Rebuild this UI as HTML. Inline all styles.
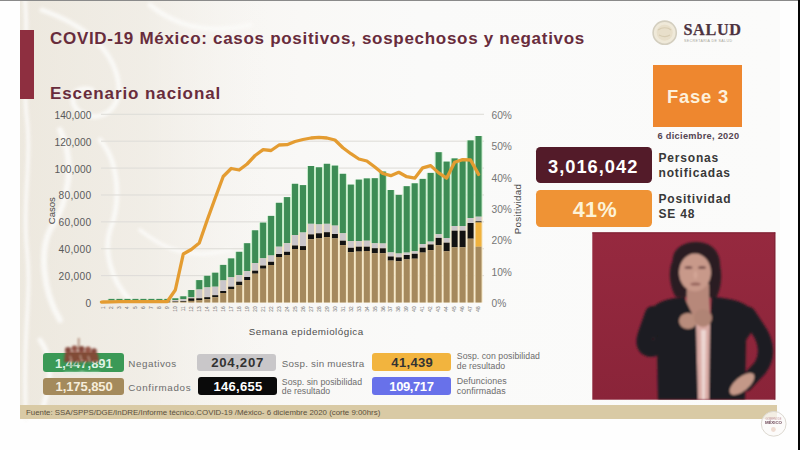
<!DOCTYPE html>
<html><head><meta charset="utf-8">
<style>
*{margin:0;padding:0;box-sizing:border-box}
html,body{width:800px;height:450px;overflow:hidden;background:#fefefe;font-family:"Liberation Sans",Arial,sans-serif}
.a{position:absolute}
.t{position:absolute;white-space:nowrap;line-height:normal}
svg{position:absolute;left:0;top:0}
</style></head><body>
<div id="wrap" style="position:absolute;left:0;top:0;width:800px;height:450px;filter:blur(0.35px)">
<div class="a" style="left:20px;top:1px;width:760px;height:418px;background:linear-gradient(90deg,#f1eee7 0px,#f3f1eb 60px,#f6f4f0 160px,#f9f8f6 280px,#fafaf9 400px,#fbfbfa 760px)"></div>
<svg width="800" height="450" viewBox="0 0 800 450">
  <defs><filter id="wb"><feGaussianBlur stdDeviation="1.5"/></filter>
  <linearGradient id="wf" x1="0" x2="1" y1="0" y2="0"><stop offset="0" stop-color="#ebe6db"/><stop offset="0.5" stop-color="#efebe3"/><stop offset="1" stop-color="#f6f4f0" stop-opacity="0"/></linearGradient></defs>
  <rect x="20" y="1" width="250" height="418" fill="url(#wf)" opacity="0.7"/>
  <g fill="none" stroke="#fbfaf8" stroke-linecap="round" filter="url(#wb)" opacity="0.9">
    <path d="M25 0 C 29 40, 22 80, 27 120 S 22 200, 27 250 S 22 330, 26 420" stroke-width="4"/>
    <path d="M42 10 C 70 20, 110 40, 118 80 C 124 108, 100 125, 80 112 C 66 102, 74 84, 92 90" stroke-width="5"/>
    <path d="M60 130 C 75 160, 70 200, 50 230 C 40 250, 42 290, 60 320" stroke-width="6"/>
    <path d="M100 140 C 118 160, 122 200, 110 230 C 104 250, 110 280, 130 300" stroke-width="5"/>
    <path d="M150 5 C 175 25, 205 35, 250 25" stroke-width="5"/>
    <path d="M40 340 C 55 360, 50 390, 40 415" stroke-width="5"/>
    <path d="M140 230 C 165 250, 190 260, 230 250" stroke-width="4"/>
  </g>
</svg>
<div class="a" style="left:0;top:0;width:800px;height:1px;background:#8a8a8a"></div>
<div class="a" style="left:20px;top:30px;width:14px;height:69px;background:#8e2f40"></div>
<svg width="800" height="450" viewBox="0 0 800 450">
  <circle cx="664.7" cy="32.7" r="11.6" fill="#efe9d9" stroke="#d3cebf" stroke-width="1.6"/>
  <circle cx="664.7" cy="32.7" r="8" fill="#e6dcc6" opacity="0.8"/>
  <path d="M658 30 C 662 27, 668 27, 671 30 M 659 35 C 663 37, 667 37, 670 35" stroke="#d7ccb2" stroke-width="1.2" fill="none"/>
  <text x="683.4" y="34.9" font-family="Liberation Serif" font-weight="bold" font-size="16.2" fill="#4d3340" stroke="#4d3340" stroke-width="0.25" textLength="57.6">SALUD</text>
  <text x="684" y="42" font-family="Liberation Sans" font-size="3.6" fill="#a7a599" textLength="48">SECRETARÍA DE SALUD</text>
</svg>
<svg width="800" height="450" viewBox="0 0 800 450" font-family="Liberation Sans">
<rect x="101" y="113.75" width="383" height="1.1" fill="#dfddd9"/>
<rect x="101" y="140.64" width="383" height="1.1" fill="#dfddd9"/>
<rect x="101" y="167.52" width="383" height="1.1" fill="#dfddd9"/>
<rect x="101" y="194.41" width="383" height="1.1" fill="#dfddd9"/>
<rect x="101" y="221.29" width="383" height="1.1" fill="#dfddd9"/>
<rect x="101" y="248.18" width="383" height="1.1" fill="#dfddd9"/>
<rect x="101" y="275.06" width="383" height="1.1" fill="#dfddd9"/>
<rect x="99.50" y="301.30" width="8" height="0.70" fill="#c9edcc"/>
<rect x="99.50" y="302.00" width="8" height="0.50" fill="#f4e5c3"/>
<rect x="107.48" y="298.90" width="8" height="1.70" fill="#c9edcc"/>
<rect x="107.48" y="300.60" width="8" height="1.90" fill="#f4e5c3"/>
<rect x="115.46" y="298.90" width="8" height="1.70" fill="#c9edcc"/>
<rect x="115.46" y="300.60" width="8" height="1.90" fill="#f4e5c3"/>
<rect x="123.44" y="298.90" width="8" height="1.70" fill="#c9edcc"/>
<rect x="123.44" y="300.60" width="8" height="1.90" fill="#f4e5c3"/>
<rect x="131.42" y="298.90" width="8" height="1.70" fill="#c9edcc"/>
<rect x="131.42" y="300.60" width="8" height="1.90" fill="#f4e5c3"/>
<rect x="139.40" y="298.90" width="8" height="1.70" fill="#c9edcc"/>
<rect x="139.40" y="300.60" width="8" height="1.90" fill="#f4e5c3"/>
<rect x="147.38" y="298.90" width="8" height="1.70" fill="#c9edcc"/>
<rect x="147.38" y="300.60" width="8" height="1.90" fill="#f4e5c3"/>
<rect x="155.36" y="298.90" width="8" height="1.70" fill="#c9edcc"/>
<rect x="155.36" y="300.60" width="8" height="1.90" fill="#f4e5c3"/>
<rect x="163.34" y="298.90" width="8" height="1.70" fill="#c9edcc"/>
<rect x="163.34" y="300.60" width="8" height="1.90" fill="#f4e5c3"/>
<rect x="171.32" y="298.30" width="8" height="1.70" fill="#c9edcc"/>
<rect x="171.32" y="300.00" width="8" height="2.50" fill="#f4e5c3"/>
<rect x="179.30" y="296.30" width="8" height="2.70" fill="#c9edcc"/>
<rect x="179.30" y="299.00" width="8" height="3.50" fill="#f4e5c3"/>
<rect x="187.28" y="290.00" width="8" height="7.30" fill="#c9edcc"/>
<rect x="187.28" y="297.30" width="8" height="5.20" fill="#f4e5c3"/>
<rect x="195.26" y="280.10" width="8" height="9.40" fill="#c9edcc"/>
<rect x="195.26" y="289.50" width="8" height="13.00" fill="#f4e5c3"/>
<rect x="203.24" y="275.80" width="8" height="11.60" fill="#c9edcc"/>
<rect x="203.24" y="287.40" width="8" height="15.10" fill="#f4e5c3"/>
<rect x="211.22" y="272.70" width="8" height="14.00" fill="#c9edcc"/>
<rect x="211.22" y="286.70" width="8" height="15.80" fill="#f4e5c3"/>
<rect x="219.20" y="264.90" width="8" height="15.50" fill="#c9edcc"/>
<rect x="219.20" y="280.40" width="8" height="22.10" fill="#f4e5c3"/>
<rect x="227.18" y="258.40" width="8" height="18.90" fill="#c9edcc"/>
<rect x="227.18" y="277.30" width="8" height="25.20" fill="#f4e5c3"/>
<rect x="235.16" y="251.80" width="8" height="23.30" fill="#c9edcc"/>
<rect x="235.16" y="275.10" width="8" height="27.40" fill="#f4e5c3"/>
<rect x="243.14" y="243.20" width="8" height="28.00" fill="#c9edcc"/>
<rect x="243.14" y="271.20" width="8" height="31.30" fill="#f4e5c3"/>
<rect x="251.12" y="230.30" width="8" height="32.70" fill="#c9edcc"/>
<rect x="251.12" y="263.00" width="8" height="39.50" fill="#f4e5c3"/>
<rect x="259.10" y="222.60" width="8" height="35.70" fill="#c9edcc"/>
<rect x="259.10" y="258.30" width="8" height="44.20" fill="#f4e5c3"/>
<rect x="267.08" y="215.90" width="8" height="39.60" fill="#c9edcc"/>
<rect x="267.08" y="255.50" width="8" height="47.00" fill="#f4e5c3"/>
<rect x="275.06" y="202.80" width="8" height="43.90" fill="#c9edcc"/>
<rect x="275.06" y="246.70" width="8" height="55.80" fill="#f4e5c3"/>
<rect x="283.04" y="197.10" width="8" height="46.10" fill="#c9edcc"/>
<rect x="283.04" y="243.20" width="8" height="59.30" fill="#f4e5c3"/>
<rect x="291.02" y="183.80" width="8" height="51.20" fill="#c9edcc"/>
<rect x="291.02" y="235.00" width="8" height="67.50" fill="#f4e5c3"/>
<rect x="299.00" y="185.10" width="8" height="47.40" fill="#c9edcc"/>
<rect x="299.00" y="232.50" width="8" height="70.00" fill="#f4e5c3"/>
<rect x="306.98" y="166.00" width="8" height="57.80" fill="#c9edcc"/>
<rect x="306.98" y="223.80" width="8" height="78.70" fill="#f4e5c3"/>
<rect x="314.96" y="167.30" width="8" height="57.10" fill="#c9edcc"/>
<rect x="314.96" y="224.40" width="8" height="78.10" fill="#f4e5c3"/>
<rect x="322.94" y="163.80" width="8" height="60.00" fill="#c9edcc"/>
<rect x="322.94" y="223.80" width="8" height="78.70" fill="#f4e5c3"/>
<rect x="330.92" y="165.60" width="8" height="60.00" fill="#c9edcc"/>
<rect x="330.92" y="225.60" width="8" height="76.90" fill="#f4e5c3"/>
<rect x="338.90" y="173.80" width="8" height="59.50" fill="#c9edcc"/>
<rect x="338.90" y="233.30" width="8" height="69.20" fill="#f4e5c3"/>
<rect x="346.88" y="184.60" width="8" height="56.50" fill="#c9edcc"/>
<rect x="346.88" y="241.10" width="8" height="61.40" fill="#f4e5c3"/>
<rect x="354.86" y="179.60" width="8" height="61.50" fill="#c9edcc"/>
<rect x="354.86" y="241.10" width="8" height="61.40" fill="#f4e5c3"/>
<rect x="362.84" y="178.40" width="8" height="62.30" fill="#c9edcc"/>
<rect x="362.84" y="240.70" width="8" height="61.80" fill="#f4e5c3"/>
<rect x="370.82" y="178.20" width="8" height="65.10" fill="#c9edcc"/>
<rect x="370.82" y="243.30" width="8" height="59.20" fill="#f4e5c3"/>
<rect x="378.80" y="171.50" width="8" height="72.00" fill="#c9edcc"/>
<rect x="378.80" y="243.50" width="8" height="59.00" fill="#f4e5c3"/>
<rect x="386.78" y="190.00" width="8" height="62.40" fill="#c9edcc"/>
<rect x="386.78" y="252.40" width="8" height="50.10" fill="#f4e5c3"/>
<rect x="394.76" y="194.90" width="8" height="58.60" fill="#c9edcc"/>
<rect x="394.76" y="253.50" width="8" height="49.00" fill="#f4e5c3"/>
<rect x="402.74" y="186.20" width="8" height="66.40" fill="#c9edcc"/>
<rect x="402.74" y="252.60" width="8" height="49.90" fill="#f4e5c3"/>
<rect x="410.72" y="183.30" width="8" height="68.00" fill="#c9edcc"/>
<rect x="410.72" y="251.30" width="8" height="51.20" fill="#f4e5c3"/>
<rect x="418.70" y="178.90" width="8" height="65.10" fill="#c9edcc"/>
<rect x="418.70" y="244.00" width="8" height="58.50" fill="#f4e5c3"/>
<rect x="426.68" y="172.90" width="8" height="68.70" fill="#c9edcc"/>
<rect x="426.68" y="241.60" width="8" height="60.90" fill="#f4e5c3"/>
<rect x="434.66" y="152.20" width="8" height="82.00" fill="#c9edcc"/>
<rect x="434.66" y="234.20" width="8" height="68.30" fill="#f4e5c3"/>
<rect x="442.64" y="161.60" width="8" height="76.40" fill="#c9edcc"/>
<rect x="442.64" y="238.00" width="8" height="64.50" fill="#f4e5c3"/>
<rect x="450.62" y="158.40" width="8" height="67.60" fill="#c9edcc"/>
<rect x="450.62" y="226.00" width="8" height="76.50" fill="#f4e5c3"/>
<rect x="458.60" y="159.60" width="8" height="66.40" fill="#c9edcc"/>
<rect x="458.60" y="226.00" width="8" height="76.50" fill="#f4e5c3"/>
<rect x="466.58" y="140.40" width="8" height="77.60" fill="#c9edcc"/>
<rect x="466.58" y="218.00" width="8" height="84.50" fill="#f4e5c3"/>
<rect x="474.56" y="136.00" width="8" height="80.70" fill="#c9edcc"/>
<rect x="474.56" y="216.70" width="8" height="85.80" fill="#f4e5c3"/>
<rect x="100.50" y="301.30" width="6.0" height="0.70" fill="#3d8c55"/>
<rect x="100.50" y="302.00" width="6.0" height="0.50" fill="#cac6ca"/>
<rect x="108.48" y="298.90" width="6.0" height="1.70" fill="#3d8c55"/>
<rect x="108.48" y="300.60" width="6.0" height="1.00" fill="#cac6ca"/>
<rect x="108.48" y="301.60" width="6.0" height="0.60" fill="#121212"/>
<rect x="108.48" y="302.20" width="6.0" height="0.30" fill="#a5895d"/>
<rect x="116.46" y="298.90" width="6.0" height="1.70" fill="#3d8c55"/>
<rect x="116.46" y="300.60" width="6.0" height="1.00" fill="#cac6ca"/>
<rect x="116.46" y="301.60" width="6.0" height="0.60" fill="#121212"/>
<rect x="116.46" y="302.20" width="6.0" height="0.30" fill="#a5895d"/>
<rect x="124.44" y="298.90" width="6.0" height="1.70" fill="#3d8c55"/>
<rect x="124.44" y="300.60" width="6.0" height="1.00" fill="#cac6ca"/>
<rect x="124.44" y="301.60" width="6.0" height="0.60" fill="#121212"/>
<rect x="124.44" y="302.20" width="6.0" height="0.30" fill="#a5895d"/>
<rect x="132.42" y="298.90" width="6.0" height="1.70" fill="#3d8c55"/>
<rect x="132.42" y="300.60" width="6.0" height="1.00" fill="#cac6ca"/>
<rect x="132.42" y="301.60" width="6.0" height="0.60" fill="#121212"/>
<rect x="132.42" y="302.20" width="6.0" height="0.30" fill="#a5895d"/>
<rect x="140.40" y="298.90" width="6.0" height="1.70" fill="#3d8c55"/>
<rect x="140.40" y="300.60" width="6.0" height="1.00" fill="#cac6ca"/>
<rect x="140.40" y="301.60" width="6.0" height="0.60" fill="#121212"/>
<rect x="140.40" y="302.20" width="6.0" height="0.30" fill="#a5895d"/>
<rect x="148.38" y="298.90" width="6.0" height="1.70" fill="#3d8c55"/>
<rect x="148.38" y="300.60" width="6.0" height="1.00" fill="#cac6ca"/>
<rect x="148.38" y="301.60" width="6.0" height="0.60" fill="#121212"/>
<rect x="148.38" y="302.20" width="6.0" height="0.30" fill="#a5895d"/>
<rect x="156.36" y="298.90" width="6.0" height="1.70" fill="#3d8c55"/>
<rect x="156.36" y="300.60" width="6.0" height="1.00" fill="#cac6ca"/>
<rect x="156.36" y="301.60" width="6.0" height="0.60" fill="#121212"/>
<rect x="156.36" y="302.20" width="6.0" height="0.30" fill="#a5895d"/>
<rect x="164.34" y="298.90" width="6.0" height="1.70" fill="#3d8c55"/>
<rect x="164.34" y="300.60" width="6.0" height="1.00" fill="#cac6ca"/>
<rect x="164.34" y="301.60" width="6.0" height="0.60" fill="#121212"/>
<rect x="164.34" y="302.20" width="6.0" height="0.30" fill="#a5895d"/>
<rect x="172.32" y="298.30" width="6.0" height="1.70" fill="#3d8c55"/>
<rect x="172.32" y="300.00" width="6.0" height="1.50" fill="#cac6ca"/>
<rect x="172.32" y="301.50" width="6.0" height="0.50" fill="#121212"/>
<rect x="172.32" y="302.00" width="6.0" height="0.50" fill="#a5895d"/>
<rect x="180.30" y="296.30" width="6.0" height="2.70" fill="#3d8c55"/>
<rect x="180.30" y="299.00" width="6.0" height="2.00" fill="#cac6ca"/>
<rect x="180.30" y="301.00" width="6.0" height="0.80" fill="#121212"/>
<rect x="180.30" y="301.80" width="6.0" height="0.70" fill="#a5895d"/>
<rect x="188.28" y="290.00" width="6.0" height="7.30" fill="#3d8c55"/>
<rect x="188.28" y="297.30" width="6.0" height="1.10" fill="#cac6ca"/>
<rect x="188.28" y="298.40" width="6.0" height="2.50" fill="#121212"/>
<rect x="188.28" y="300.90" width="6.0" height="1.60" fill="#a5895d"/>
<rect x="196.26" y="280.10" width="6.0" height="9.40" fill="#3d8c55"/>
<rect x="196.26" y="289.50" width="6.0" height="8.80" fill="#cac6ca"/>
<rect x="196.26" y="298.30" width="6.0" height="2.00" fill="#121212"/>
<rect x="196.26" y="300.30" width="6.0" height="2.20" fill="#a5895d"/>
<rect x="204.24" y="275.80" width="6.0" height="11.60" fill="#3d8c55"/>
<rect x="204.24" y="287.40" width="6.0" height="9.80" fill="#cac6ca"/>
<rect x="204.24" y="297.20" width="6.0" height="2.00" fill="#121212"/>
<rect x="204.24" y="299.20" width="6.0" height="3.30" fill="#a5895d"/>
<rect x="212.22" y="272.70" width="6.0" height="14.00" fill="#3d8c55"/>
<rect x="212.22" y="286.70" width="6.0" height="8.50" fill="#cac6ca"/>
<rect x="212.22" y="295.20" width="6.0" height="2.00" fill="#121212"/>
<rect x="212.22" y="297.20" width="6.0" height="5.30" fill="#a5895d"/>
<rect x="220.20" y="264.90" width="6.0" height="15.50" fill="#3d8c55"/>
<rect x="220.20" y="280.40" width="6.0" height="10.60" fill="#cac6ca"/>
<rect x="220.20" y="291.00" width="6.0" height="2.00" fill="#121212"/>
<rect x="220.20" y="293.00" width="6.0" height="9.50" fill="#a5895d"/>
<rect x="228.18" y="258.40" width="6.0" height="18.90" fill="#3d8c55"/>
<rect x="228.18" y="277.30" width="6.0" height="9.40" fill="#cac6ca"/>
<rect x="228.18" y="286.70" width="6.0" height="2.30" fill="#121212"/>
<rect x="228.18" y="289.00" width="6.0" height="13.50" fill="#a5895d"/>
<rect x="236.16" y="251.80" width="6.0" height="23.30" fill="#3d8c55"/>
<rect x="236.16" y="275.10" width="6.0" height="6.60" fill="#cac6ca"/>
<rect x="236.16" y="281.70" width="6.0" height="3.50" fill="#121212"/>
<rect x="236.16" y="285.20" width="6.0" height="17.30" fill="#a5895d"/>
<rect x="244.14" y="243.20" width="6.0" height="28.00" fill="#3d8c55"/>
<rect x="244.14" y="271.20" width="6.0" height="5.80" fill="#cac6ca"/>
<rect x="244.14" y="277.00" width="6.0" height="3.00" fill="#121212"/>
<rect x="244.14" y="280.00" width="6.0" height="22.50" fill="#a5895d"/>
<rect x="252.12" y="230.30" width="6.0" height="32.70" fill="#3d8c55"/>
<rect x="252.12" y="263.00" width="6.0" height="7.70" fill="#cac6ca"/>
<rect x="252.12" y="270.70" width="6.0" height="3.00" fill="#121212"/>
<rect x="252.12" y="273.70" width="6.0" height="28.80" fill="#a5895d"/>
<rect x="260.10" y="222.60" width="6.0" height="35.70" fill="#3d8c55"/>
<rect x="260.10" y="258.30" width="6.0" height="7.30" fill="#cac6ca"/>
<rect x="260.10" y="265.60" width="6.0" height="3.10" fill="#121212"/>
<rect x="260.10" y="268.70" width="6.0" height="33.80" fill="#a5895d"/>
<rect x="268.08" y="215.90" width="6.0" height="39.60" fill="#3d8c55"/>
<rect x="268.08" y="255.50" width="6.0" height="6.30" fill="#cac6ca"/>
<rect x="268.08" y="261.80" width="6.0" height="3.20" fill="#121212"/>
<rect x="268.08" y="265.00" width="6.0" height="37.50" fill="#a5895d"/>
<rect x="276.06" y="202.80" width="6.0" height="43.90" fill="#3d8c55"/>
<rect x="276.06" y="246.70" width="6.0" height="7.30" fill="#cac6ca"/>
<rect x="276.06" y="254.00" width="6.0" height="3.00" fill="#121212"/>
<rect x="276.06" y="257.00" width="6.0" height="45.50" fill="#a5895d"/>
<rect x="284.04" y="197.10" width="6.0" height="46.10" fill="#3d8c55"/>
<rect x="284.04" y="243.20" width="6.0" height="8.60" fill="#cac6ca"/>
<rect x="284.04" y="251.80" width="6.0" height="3.20" fill="#121212"/>
<rect x="284.04" y="255.00" width="6.0" height="47.50" fill="#a5895d"/>
<rect x="292.02" y="183.80" width="6.0" height="51.20" fill="#3d8c55"/>
<rect x="292.02" y="235.00" width="6.0" height="10.50" fill="#cac6ca"/>
<rect x="292.02" y="245.50" width="6.0" height="3.50" fill="#121212"/>
<rect x="292.02" y="249.00" width="6.0" height="53.50" fill="#a5895d"/>
<rect x="300.00" y="185.10" width="6.0" height="47.40" fill="#3d8c55"/>
<rect x="300.00" y="232.50" width="6.0" height="13.60" fill="#cac6ca"/>
<rect x="300.00" y="246.10" width="6.0" height="3.90" fill="#121212"/>
<rect x="300.00" y="250.00" width="6.0" height="52.50" fill="#a5895d"/>
<rect x="307.98" y="166.00" width="6.0" height="57.80" fill="#3d8c55"/>
<rect x="307.98" y="223.80" width="6.0" height="10.60" fill="#cac6ca"/>
<rect x="307.98" y="234.40" width="6.0" height="4.90" fill="#121212"/>
<rect x="307.98" y="239.30" width="6.0" height="63.20" fill="#a5895d"/>
<rect x="315.96" y="167.30" width="6.0" height="57.10" fill="#3d8c55"/>
<rect x="315.96" y="224.40" width="6.0" height="8.90" fill="#cac6ca"/>
<rect x="315.96" y="233.30" width="6.0" height="5.10" fill="#121212"/>
<rect x="315.96" y="238.40" width="6.0" height="64.10" fill="#a5895d"/>
<rect x="323.94" y="163.80" width="6.0" height="60.00" fill="#3d8c55"/>
<rect x="323.94" y="223.80" width="6.0" height="8.40" fill="#cac6ca"/>
<rect x="323.94" y="232.20" width="6.0" height="4.90" fill="#121212"/>
<rect x="323.94" y="237.10" width="6.0" height="65.40" fill="#a5895d"/>
<rect x="331.92" y="165.60" width="6.0" height="60.00" fill="#3d8c55"/>
<rect x="331.92" y="225.60" width="6.0" height="8.40" fill="#cac6ca"/>
<rect x="331.92" y="234.00" width="6.0" height="4.40" fill="#121212"/>
<rect x="331.92" y="238.40" width="6.0" height="64.10" fill="#a5895d"/>
<rect x="339.90" y="173.80" width="6.0" height="59.50" fill="#3d8c55"/>
<rect x="339.90" y="233.30" width="6.0" height="7.40" fill="#cac6ca"/>
<rect x="339.90" y="240.70" width="6.0" height="4.40" fill="#121212"/>
<rect x="339.90" y="245.10" width="6.0" height="57.40" fill="#a5895d"/>
<rect x="347.88" y="184.60" width="6.0" height="56.50" fill="#3d8c55"/>
<rect x="347.88" y="241.10" width="6.0" height="6.70" fill="#cac6ca"/>
<rect x="347.88" y="247.80" width="6.0" height="4.40" fill="#121212"/>
<rect x="347.88" y="252.20" width="6.0" height="50.30" fill="#a5895d"/>
<rect x="355.86" y="179.60" width="6.0" height="61.50" fill="#3d8c55"/>
<rect x="355.86" y="241.10" width="6.0" height="5.60" fill="#cac6ca"/>
<rect x="355.86" y="246.70" width="6.0" height="4.90" fill="#121212"/>
<rect x="355.86" y="251.60" width="6.0" height="50.90" fill="#a5895d"/>
<rect x="363.84" y="178.40" width="6.0" height="62.30" fill="#3d8c55"/>
<rect x="363.84" y="240.70" width="6.0" height="6.00" fill="#cac6ca"/>
<rect x="363.84" y="246.70" width="6.0" height="4.30" fill="#121212"/>
<rect x="363.84" y="251.00" width="6.0" height="51.50" fill="#a5895d"/>
<rect x="371.82" y="178.20" width="6.0" height="65.10" fill="#3d8c55"/>
<rect x="371.82" y="243.30" width="6.0" height="4.90" fill="#cac6ca"/>
<rect x="371.82" y="248.20" width="6.0" height="5.10" fill="#121212"/>
<rect x="371.82" y="253.30" width="6.0" height="49.20" fill="#a5895d"/>
<rect x="379.80" y="171.50" width="6.0" height="72.00" fill="#3d8c55"/>
<rect x="379.80" y="243.50" width="6.0" height="4.80" fill="#cac6ca"/>
<rect x="379.80" y="248.30" width="6.0" height="5.00" fill="#121212"/>
<rect x="379.80" y="253.30" width="6.0" height="49.20" fill="#a5895d"/>
<rect x="387.78" y="190.00" width="6.0" height="62.40" fill="#3d8c55"/>
<rect x="387.78" y="252.40" width="6.0" height="4.10" fill="#cac6ca"/>
<rect x="387.78" y="256.50" width="6.0" height="4.10" fill="#121212"/>
<rect x="387.78" y="260.60" width="6.0" height="41.90" fill="#a5895d"/>
<rect x="395.76" y="194.90" width="6.0" height="58.60" fill="#3d8c55"/>
<rect x="395.76" y="253.50" width="6.0" height="3.90" fill="#cac6ca"/>
<rect x="395.76" y="257.40" width="6.0" height="3.90" fill="#121212"/>
<rect x="395.76" y="261.30" width="6.0" height="41.20" fill="#a5895d"/>
<rect x="403.74" y="186.20" width="6.0" height="66.40" fill="#3d8c55"/>
<rect x="403.74" y="252.60" width="6.0" height="2.40" fill="#cac6ca"/>
<rect x="403.74" y="255.00" width="6.0" height="4.40" fill="#121212"/>
<rect x="403.74" y="259.40" width="6.0" height="43.10" fill="#a5895d"/>
<rect x="411.72" y="183.30" width="6.0" height="68.00" fill="#3d8c55"/>
<rect x="411.72" y="251.30" width="6.0" height="2.50" fill="#cac6ca"/>
<rect x="411.72" y="253.80" width="6.0" height="4.90" fill="#121212"/>
<rect x="411.72" y="258.70" width="6.0" height="43.80" fill="#a5895d"/>
<rect x="419.70" y="178.90" width="6.0" height="65.10" fill="#3d8c55"/>
<rect x="419.70" y="244.00" width="6.0" height="3.70" fill="#cac6ca"/>
<rect x="419.70" y="247.70" width="6.0" height="4.90" fill="#121212"/>
<rect x="419.70" y="252.60" width="6.0" height="49.90" fill="#a5895d"/>
<rect x="427.68" y="172.90" width="6.0" height="68.70" fill="#3d8c55"/>
<rect x="427.68" y="241.60" width="6.0" height="2.90" fill="#cac6ca"/>
<rect x="427.68" y="244.50" width="6.0" height="5.60" fill="#121212"/>
<rect x="427.68" y="250.10" width="6.0" height="52.40" fill="#a5895d"/>
<rect x="435.66" y="152.20" width="6.0" height="82.00" fill="#3d8c55"/>
<rect x="435.66" y="234.20" width="6.0" height="3.70" fill="#cac6ca"/>
<rect x="435.66" y="237.90" width="6.0" height="7.30" fill="#121212"/>
<rect x="435.66" y="245.20" width="6.0" height="57.30" fill="#a5895d"/>
<rect x="443.64" y="161.60" width="6.0" height="76.40" fill="#3d8c55"/>
<rect x="443.64" y="238.00" width="6.0" height="4.70" fill="#cac6ca"/>
<rect x="443.64" y="242.70" width="6.0" height="8.60" fill="#121212"/>
<rect x="443.64" y="251.30" width="6.0" height="51.20" fill="#a5895d"/>
<rect x="451.62" y="158.40" width="6.0" height="67.60" fill="#3d8c55"/>
<rect x="451.62" y="226.00" width="6.0" height="4.70" fill="#cac6ca"/>
<rect x="451.62" y="230.70" width="6.0" height="16.60" fill="#121212"/>
<rect x="451.62" y="247.30" width="6.0" height="55.20" fill="#a5895d"/>
<rect x="459.60" y="159.60" width="6.0" height="66.40" fill="#3d8c55"/>
<rect x="459.60" y="226.00" width="6.0" height="4.70" fill="#cac6ca"/>
<rect x="459.60" y="230.70" width="6.0" height="16.60" fill="#121212"/>
<rect x="459.60" y="247.30" width="6.0" height="55.20" fill="#a5895d"/>
<rect x="467.58" y="140.40" width="6.0" height="77.60" fill="#3d8c55"/>
<rect x="467.58" y="218.00" width="6.0" height="5.00" fill="#cac6ca"/>
<rect x="467.58" y="223.00" width="6.0" height="15.70" fill="#121212"/>
<rect x="467.58" y="238.70" width="6.0" height="63.80" fill="#a5895d"/>
<rect x="475.56" y="136.00" width="6.0" height="80.70" fill="#3d8c55"/>
<rect x="475.56" y="216.70" width="6.0" height="4.60" fill="#cac6ca"/>
<rect x="475.56" y="221.30" width="6.0" height="1.20" fill="#121212"/>
<rect x="475.56" y="222.50" width="6.0" height="24.20" fill="#f0b23e"/>
<rect x="475.56" y="246.70" width="6.0" height="55.80" fill="#a5895d"/>
<polyline points="101.5,302.2 103.50,302.00 111.48,301.80 119.46,301.60 127.44,301.60 135.42,301.70 143.40,301.70 151.38,301.70 159.36,301.70 167.34,301.50 175.32,290.00 183.30,254.00 191.28,249.50 199.26,243.00 207.24,220.00 215.22,198.00 223.20,176.50 231.18,168.50 239.16,170.00 247.14,164.00 255.12,155.50 263.10,149.70 271.08,150.50 279.06,145.00 287.04,144.70 295.02,141.50 303.00,139.50 310.98,138.00 318.96,137.30 326.94,138.00 334.92,140.00 342.90,147.70 350.88,153.70 358.86,159.00 366.84,161.00 374.82,167.00 382.80,173.50 390.78,175.70 398.76,172.30 406.74,176.70 414.72,178.20 422.70,167.80 430.68,165.60 438.66,172.90 446.64,178.20 454.62,162.20 462.60,159.60 470.58,160.00 478.56,174.40" fill="none" stroke="#e49c31" stroke-width="3.3" stroke-linejoin="round" stroke-linecap="round"/>
<text transform="translate(105.20,306.3) rotate(-90)" text-anchor="end" font-size="4.8" fill="#6a6a6a">1</text>
<text transform="translate(113.18,306.3) rotate(-90)" text-anchor="end" font-size="4.8" fill="#6a6a6a">2</text>
<text transform="translate(121.16,306.3) rotate(-90)" text-anchor="end" font-size="4.8" fill="#6a6a6a">3</text>
<text transform="translate(129.14,306.3) rotate(-90)" text-anchor="end" font-size="4.8" fill="#6a6a6a">4</text>
<text transform="translate(137.12,306.3) rotate(-90)" text-anchor="end" font-size="4.8" fill="#6a6a6a">5</text>
<text transform="translate(145.10,306.3) rotate(-90)" text-anchor="end" font-size="4.8" fill="#6a6a6a">6</text>
<text transform="translate(153.08,306.3) rotate(-90)" text-anchor="end" font-size="4.8" fill="#6a6a6a">7</text>
<text transform="translate(161.06,306.3) rotate(-90)" text-anchor="end" font-size="4.8" fill="#6a6a6a">8</text>
<text transform="translate(169.04,306.3) rotate(-90)" text-anchor="end" font-size="4.8" fill="#6a6a6a">9</text>
<text transform="translate(177.02,306.3) rotate(-90)" text-anchor="end" font-size="4.8" fill="#6a6a6a">10</text>
<text transform="translate(185.00,306.3) rotate(-90)" text-anchor="end" font-size="4.8" fill="#6a6a6a">11</text>
<text transform="translate(192.98,306.3) rotate(-90)" text-anchor="end" font-size="4.8" fill="#6a6a6a">12</text>
<text transform="translate(200.96,306.3) rotate(-90)" text-anchor="end" font-size="4.8" fill="#6a6a6a">13</text>
<text transform="translate(208.94,306.3) rotate(-90)" text-anchor="end" font-size="4.8" fill="#6a6a6a">14</text>
<text transform="translate(216.92,306.3) rotate(-90)" text-anchor="end" font-size="4.8" fill="#6a6a6a">15</text>
<text transform="translate(224.90,306.3) rotate(-90)" text-anchor="end" font-size="4.8" fill="#6a6a6a">16</text>
<text transform="translate(232.88,306.3) rotate(-90)" text-anchor="end" font-size="4.8" fill="#6a6a6a">17</text>
<text transform="translate(240.86,306.3) rotate(-90)" text-anchor="end" font-size="4.8" fill="#6a6a6a">18</text>
<text transform="translate(248.84,306.3) rotate(-90)" text-anchor="end" font-size="4.8" fill="#6a6a6a">19</text>
<text transform="translate(256.82,306.3) rotate(-90)" text-anchor="end" font-size="4.8" fill="#6a6a6a">20</text>
<text transform="translate(264.80,306.3) rotate(-90)" text-anchor="end" font-size="4.8" fill="#6a6a6a">21</text>
<text transform="translate(272.78,306.3) rotate(-90)" text-anchor="end" font-size="4.8" fill="#6a6a6a">22</text>
<text transform="translate(280.76,306.3) rotate(-90)" text-anchor="end" font-size="4.8" fill="#6a6a6a">23</text>
<text transform="translate(288.74,306.3) rotate(-90)" text-anchor="end" font-size="4.8" fill="#6a6a6a">24</text>
<text transform="translate(296.72,306.3) rotate(-90)" text-anchor="end" font-size="4.8" fill="#6a6a6a">25</text>
<text transform="translate(304.70,306.3) rotate(-90)" text-anchor="end" font-size="4.8" fill="#6a6a6a">26</text>
<text transform="translate(312.68,306.3) rotate(-90)" text-anchor="end" font-size="4.8" fill="#6a6a6a">27</text>
<text transform="translate(320.66,306.3) rotate(-90)" text-anchor="end" font-size="4.8" fill="#6a6a6a">28</text>
<text transform="translate(328.64,306.3) rotate(-90)" text-anchor="end" font-size="4.8" fill="#6a6a6a">29</text>
<text transform="translate(336.62,306.3) rotate(-90)" text-anchor="end" font-size="4.8" fill="#6a6a6a">30</text>
<text transform="translate(344.60,306.3) rotate(-90)" text-anchor="end" font-size="4.8" fill="#6a6a6a">31</text>
<text transform="translate(352.58,306.3) rotate(-90)" text-anchor="end" font-size="4.8" fill="#6a6a6a">32</text>
<text transform="translate(360.56,306.3) rotate(-90)" text-anchor="end" font-size="4.8" fill="#6a6a6a">33</text>
<text transform="translate(368.54,306.3) rotate(-90)" text-anchor="end" font-size="4.8" fill="#6a6a6a">34</text>
<text transform="translate(376.52,306.3) rotate(-90)" text-anchor="end" font-size="4.8" fill="#6a6a6a">35</text>
<text transform="translate(384.50,306.3) rotate(-90)" text-anchor="end" font-size="4.8" fill="#6a6a6a">36</text>
<text transform="translate(392.48,306.3) rotate(-90)" text-anchor="end" font-size="4.8" fill="#6a6a6a">37</text>
<text transform="translate(400.46,306.3) rotate(-90)" text-anchor="end" font-size="4.8" fill="#6a6a6a">38</text>
<text transform="translate(408.44,306.3) rotate(-90)" text-anchor="end" font-size="4.8" fill="#6a6a6a">39</text>
<text transform="translate(416.42,306.3) rotate(-90)" text-anchor="end" font-size="4.8" fill="#6a6a6a">40</text>
<text transform="translate(424.40,306.3) rotate(-90)" text-anchor="end" font-size="4.8" fill="#6a6a6a">41</text>
<text transform="translate(432.38,306.3) rotate(-90)" text-anchor="end" font-size="4.8" fill="#6a6a6a">42</text>
<text transform="translate(440.36,306.3) rotate(-90)" text-anchor="end" font-size="4.8" fill="#6a6a6a">43</text>
<text transform="translate(448.34,306.3) rotate(-90)" text-anchor="end" font-size="4.8" fill="#6a6a6a">44</text>
<text transform="translate(456.32,306.3) rotate(-90)" text-anchor="end" font-size="4.8" fill="#6a6a6a">45</text>
<text transform="translate(464.30,306.3) rotate(-90)" text-anchor="end" font-size="4.8" fill="#6a6a6a">46</text>
<text transform="translate(472.28,306.3) rotate(-90)" text-anchor="end" font-size="4.8" fill="#6a6a6a">47</text>
<text transform="translate(480.26,306.3) rotate(-90)" text-anchor="end" font-size="4.8" fill="#6a6a6a">48</text>
<text x="91.30" y="118.80" text-anchor="end" font-size="10.2" fill="#5a5a5a" letter-spacing="0">140,000</text>
<text x="91.30" y="145.69" text-anchor="end" font-size="10.2" fill="#5a5a5a" letter-spacing="0">120,000</text>
<text x="91.30" y="172.57" text-anchor="end" font-size="10.2" fill="#5a5a5a" letter-spacing="0">100,000</text>
<text x="91.65" y="199.46" text-anchor="end" font-size="10.2" fill="#5a5a5a" letter-spacing="0.35">80,000</text>
<text x="91.65" y="226.34" text-anchor="end" font-size="10.2" fill="#5a5a5a" letter-spacing="0.35">60,000</text>
<text x="91.65" y="253.23" text-anchor="end" font-size="10.2" fill="#5a5a5a" letter-spacing="0.35">40,000</text>
<text x="91.65" y="280.11" text-anchor="end" font-size="10.2" fill="#5a5a5a" letter-spacing="0.35">20,000</text>
<text x="91.65" y="307.00" text-anchor="end" font-size="10.2" fill="#5a5a5a" letter-spacing="0.35">0</text>
<text x="491.5" y="119.10" font-size="10.2" fill="#767676">60%</text>
<text x="491.5" y="150.40" font-size="10.2" fill="#767676">50%</text>
<text x="491.5" y="181.70" font-size="10.2" fill="#767676">40%</text>
<text x="491.5" y="213.00" font-size="10.2" fill="#767676">30%</text>
<text x="491.5" y="244.30" font-size="10.2" fill="#767676">20%</text>
<text x="491.5" y="275.60" font-size="10.2" fill="#767676">10%</text>
<text x="491.5" y="306.90" font-size="10.2" fill="#767676">0%</text>
<text transform="translate(54.8,210.7) rotate(-90)" text-anchor="middle" font-size="9.6" fill="#4a4a4a">Casos</text>
<text transform="translate(521,209) rotate(-90)" text-anchor="middle" font-size="9.8" letter-spacing="0.3" fill="#4a4a4a">Positividad</text>
<text x="306.2" y="335.3" text-anchor="middle" font-size="9.8" fill="#4e4e4e" letter-spacing="0.5">Semana epidemiológica</text>
</svg>
<div class="t" style="left:50px;top:28.83px;font-size:17px;color:#682c3c;font-weight:bold;letter-spacing:0.7px;">COVID-19 México: casos positivos, sospechosos y negativos</div>
<div class="t" style="left:50px;top:84.43px;font-size:17px;color:#682c3c;font-weight:bold;letter-spacing:0.9px;">Escenario nacional</div>
<div class="a" style="left:653px;top:64.5px;width:89px;height:62.5px;background:#ee872f;border-radius:0px"></div>
<div class="t" style="left:667px;top:85.84px;font-size:18.4px;color:#fdf1dc;font-weight:bold;letter-spacing:0.8px;">Fase 3</div>
<div class="t" style="left:657.6px;top:130.52px;font-size:9.2px;color:#544452;font-weight:bold;letter-spacing:0.3px;">6 diciembre, 2020</div>
<div class="a" style="left:536px;top:147.3px;width:116px;height:36px;background:#531b29;border-radius:4.5px"></div>
<div class="t" style="left:548px;top:155.94px;font-size:18.3px;color:#ffffff;font-weight:bold;letter-spacing:1.0px;">3,016,042</div>
<div class="a" style="left:536px;top:190px;width:116px;height:36.6px;background:#ef9335;border-radius:4.5px"></div>
<div class="t" style="left:572.8px;top:196.50px;font-size:21.6px;color:#fdf3d8;font-weight:bold;letter-spacing:0.3px;">41%</div>
<div class="t" style="left:658.5px;top:150.94px;font-size:12px;color:#383838;font-weight:bold;letter-spacing:0.82px;">Personas</div>
<div class="t" style="left:658.5px;top:165.94px;font-size:12px;color:#383838;font-weight:bold;letter-spacing:0.82px;">notificadas</div>
<div class="t" style="left:658.5px;top:191.54px;font-size:12px;color:#383838;font-weight:bold;letter-spacing:0.8px;">Positividad</div>
<div class="t" style="left:658.5px;top:206.74px;font-size:12px;color:#383838;font-weight:bold;letter-spacing:0.8px;">SE 48</div>
<div class="a" style="left:43.2px;top:353.2px;width:80.6px;height:18.5px;background:#3b9956;border-radius:3px"></div>
<div class="t" style="left:55px;top:356.32px;font-size:13px;color:#dff3e4;font-weight:bold;letter-spacing:0px;">1,447,891</div>
<svg width="800" height="450" viewBox="0 0 800 450" style="position:absolute;left:0;top:0"><defs><filter id="bl2" x="-20%" y="-20%" width="140%" height="140%"><feGaussianBlur stdDeviation="0.8"/></filter></defs><g filter="url(#bl2)" opacity="0.95">
<rect x="77.8" y="338" width="1.8" height="12" fill="#b08a78"/>
<circle cx="68" cy="350" r="3" fill="#7e3e32"/><circle cx="74.5" cy="348.5" r="3" fill="#8d4a3c"/><circle cx="81.5" cy="349" r="3" fill="#7e3e32"/><circle cx="88" cy="349.5" r="3" fill="#93503f"/><circle cx="94" cy="351" r="2.8" fill="#7e3e32"/>
<path d="M64 362 L65 353 C70 351,94 351,98 354 L99 362 Z" fill="#864636"/>
<path d="M70 356 L72 362 M80 355 L82 362 M88 356 L90 362" stroke="#c39a88" stroke-width="1.2"/>
<path d="M66 368 C70 364,74 366,78 363 C82 366,86 363,90 365" stroke="#2e7a45" stroke-width="1.3" fill="none"/>
<path d="M64 373 C70 372,76 374,82 372 C88 374,94 372,100 373" stroke="#d6efdc" stroke-width="1.4" fill="none"/>
</g></svg>
<div class="a" style="left:43.2px;top:377.8px;width:80.6px;height:17.6px;background:#a48a5c;border-radius:3px"></div>
<div class="t" style="left:55.6px;top:379.42px;font-size:13px;color:#f6eddb;font-weight:bold;letter-spacing:-0.1px;">1,175,850</div>
<div class="t" style="left:128.3px;top:357.87px;font-size:9.8px;color:#6c6c6c;letter-spacing:0.55px;">Negativos</div>
<div class="t" style="left:128.3px;top:381.87px;font-size:9.8px;color:#6c6c6c;letter-spacing:0.67px;">Confirmados</div>
<div class="a" style="left:197.2px;top:353.5px;width:79px;height:17.6px;background:#c9c7c9;border-radius:3px"></div>
<div class="t" style="left:211.2px;top:355.24px;font-size:13.2px;color:#333;font-weight:bold;letter-spacing:0.75px;">204,207</div>
<div class="a" style="left:197.8px;top:377.4px;width:79.7px;height:18px;background:#0a0a0a;border-radius:3px"></div>
<div class="t" style="left:213.4px;top:379.42px;font-size:13px;color:#fff;font-weight:bold;letter-spacing:0.3px;">146,655</div>
<div class="t" style="left:281.8px;top:357.87px;font-size:9.8px;color:#6c6c6c;letter-spacing:0.25px;">Sosp. sin muestra</div>
<div class="t" style="left:281.8px;top:376.58px;font-size:8.7px;color:#6c6c6c;letter-spacing:0.05px;">Sosp. sin posibilidad</div>
<div class="t" style="left:281.8px;top:386.38px;font-size:8.7px;color:#6c6c6c;letter-spacing:0.05px;">de resultado</div>
<div class="a" style="left:371.6px;top:353.3px;width:79.8px;height:17.8px;background:#f2b43e;border-radius:3px"></div>
<div class="t" style="left:391.3px;top:355.42px;font-size:13px;color:#333;font-weight:bold;letter-spacing:0.35px;">41,439</div>
<div class="a" style="left:371.6px;top:377.4px;width:79.8px;height:17.6px;background:#6871ea;border-radius:3px"></div>
<div class="t" style="left:389.3px;top:379.42px;font-size:13px;color:#fff;font-weight:bold;letter-spacing:-0.4px;">109,717</div>
<div class="t" style="left:456.8px;top:351.18px;font-size:8.7px;color:#6c6c6c;letter-spacing:0.05px;">Sosp. con posibilidad</div>
<div class="t" style="left:456.8px;top:360.98px;font-size:8.7px;color:#6c6c6c;letter-spacing:0.05px;">de resultado</div>
<div class="t" style="left:456.8px;top:376.40px;font-size:8.9px;color:#6c6c6c;letter-spacing:0.05px;">Defunciones</div>
<div class="t" style="left:456.8px;top:386.20px;font-size:8.9px;color:#6c6c6c;letter-spacing:0.05px;">confirmadas</div>
<div class="a" style="left:20px;top:405px;width:757px;height:13.5px;background:#d9caa5;border-radius:0px"></div>
<div class="t" style="left:26px;top:407.56px;font-size:7.86px;color:#5a4f3c;letter-spacing:0px;">Fuente: SSA/SPPS/DGE/InDRE/Informe técnico.COVID-19 /México- 6 diciembre 2020 (corte 9:00hrs)</div>
<svg width="800" height="450" viewBox="0 0 800 450">
  <defs><clipPath id="vc"><rect x="592.3" y="232.4" width="183" height="167.3"/></clipPath>
  <filter id="bl" x="-10%" y="-10%" width="120%" height="120%"><feGaussianBlur stdDeviation="0.9"/></filter></defs>
  <linearGradient id="rg" x1="0" x2="0" y1="0" y2="1"><stop offset="0" stop-color="#96293f"/><stop offset="1" stop-color="#8a2439"/></linearGradient>
  <rect x="592.3" y="232.4" width="183" height="167.3" fill="url(#rg)"/>
  <rect x="592.3" y="232.4" width="183" height="1" fill="#7c2234"/>
  <rect x="774.3" y="232.4" width="1" height="167.3" fill="#7c2234"/>
  <g clip-path="url(#vc)" filter="url(#bl)">
  <!-- hair -->
  <path d="M673 266 C 670 250, 682 242, 696 242 C 712 242, 721 252, 720 268 C 721 282, 719 292, 716 298 L 676 297 C 671 288, 671 276, 673 266 Z" fill="#2a1e22"/>
  <!-- neck -->
  <path d="M687 284 L 709 284 L 710 312 L 698 322 L 686 312 Z" fill="#b7887a"/>
  <!-- face -->
  <ellipse cx="695" cy="272.5" rx="16" ry="19" fill="#c8998a"/>
  <ellipse cx="688.5" cy="267.5" rx="4" ry="1.6" fill="#6a4440" opacity="0.8"/>
  <ellipse cx="702" cy="267.5" rx="4" ry="1.6" fill="#6a4440" opacity="0.8"/>
  <ellipse cx="695.5" cy="284" rx="5" ry="1.5" fill="#8a5550" opacity="0.8"/>
  <ellipse cx="695.5" cy="275" rx="2" ry="4" fill="#d6a898" opacity="0.7"/>
  <path d="M672 262 C 668 272, 670 288, 676 297 L 682 296 C 679 285, 678 270, 680 260 Z" fill="#2a1e22"/>
  <path d="M719 262 C 723 274, 721 290, 716 298 L 709 296 C 712 285, 712 270, 711 260 Z" fill="#2a1e22"/>
  <!-- torso -->
  <path d="M684 297 C 670 298, 657 301, 651 310 L 649 330 L 657 345 L 658 399.7 L 745 399.7 L 746 340 L 753 330 L 751 310 C 745 301, 728 298, 712 297 L 710 322 L 696 322 Z" fill="#1f1b20"/>
  <!-- left arm -->
  <path d="M653 314 L 646 334 C 642 345, 646 351, 655 348 L 684 326" fill="none" stroke="#1f1b20" stroke-width="16" stroke-linecap="round" stroke-linejoin="round"/>
  <!-- right arm -->
  <path d="M748 314 L 761 334 C 767 346, 767 358, 760 368 L 745 384" fill="none" stroke="#1f1b20" stroke-width="15" stroke-linecap="round" stroke-linejoin="round"/>
  <!-- blouse -->
  <path d="M696 322 L 710 322 L 709 399.7 L 698 399.7 Z" fill="#d9aaa4"/>
  <path d="M701 330 L 706 330 L 705 399.7 L 702 399.7 Z" fill="#ecd6d2"/>
  <!-- hands -->
  <ellipse cx="688" cy="321" rx="9" ry="8" fill="#b88c7c"/>
  <ellipse cx="703" cy="318" rx="9" ry="9" fill="#b08474"/>
  <ellipse cx="742" cy="384" rx="15" ry="7" transform="rotate(-40 742 384)" fill="#c49888"/>
  </g>
</svg>
<svg width="800" height="450" viewBox="0 0 800 450">
  <circle cx="773.7" cy="423.8" r="12.4" fill="#fbfaf8" fill-opacity="0.75" stroke="#dcd8d0" stroke-width="1"/>
  <text x="773.4" y="419.6" text-anchor="middle" font-family="Liberation Sans" font-size="2.6" fill="#c49aa0" textLength="16">GOBIERNO DE</text>
  <text x="773.4" y="423.9" text-anchor="middle" font-family="Liberation Sans" font-weight="bold" font-size="4.4" fill="#6e4858" textLength="17">MÉXICO</text>
  <circle cx="773.4" cy="429.5" r="2.4" fill="#efdcd2"/>
</svg>
<div class="a" style="left:798px;top:0;width:2px;height:450px;background:#050505"></div>
</div>
</body></html>
